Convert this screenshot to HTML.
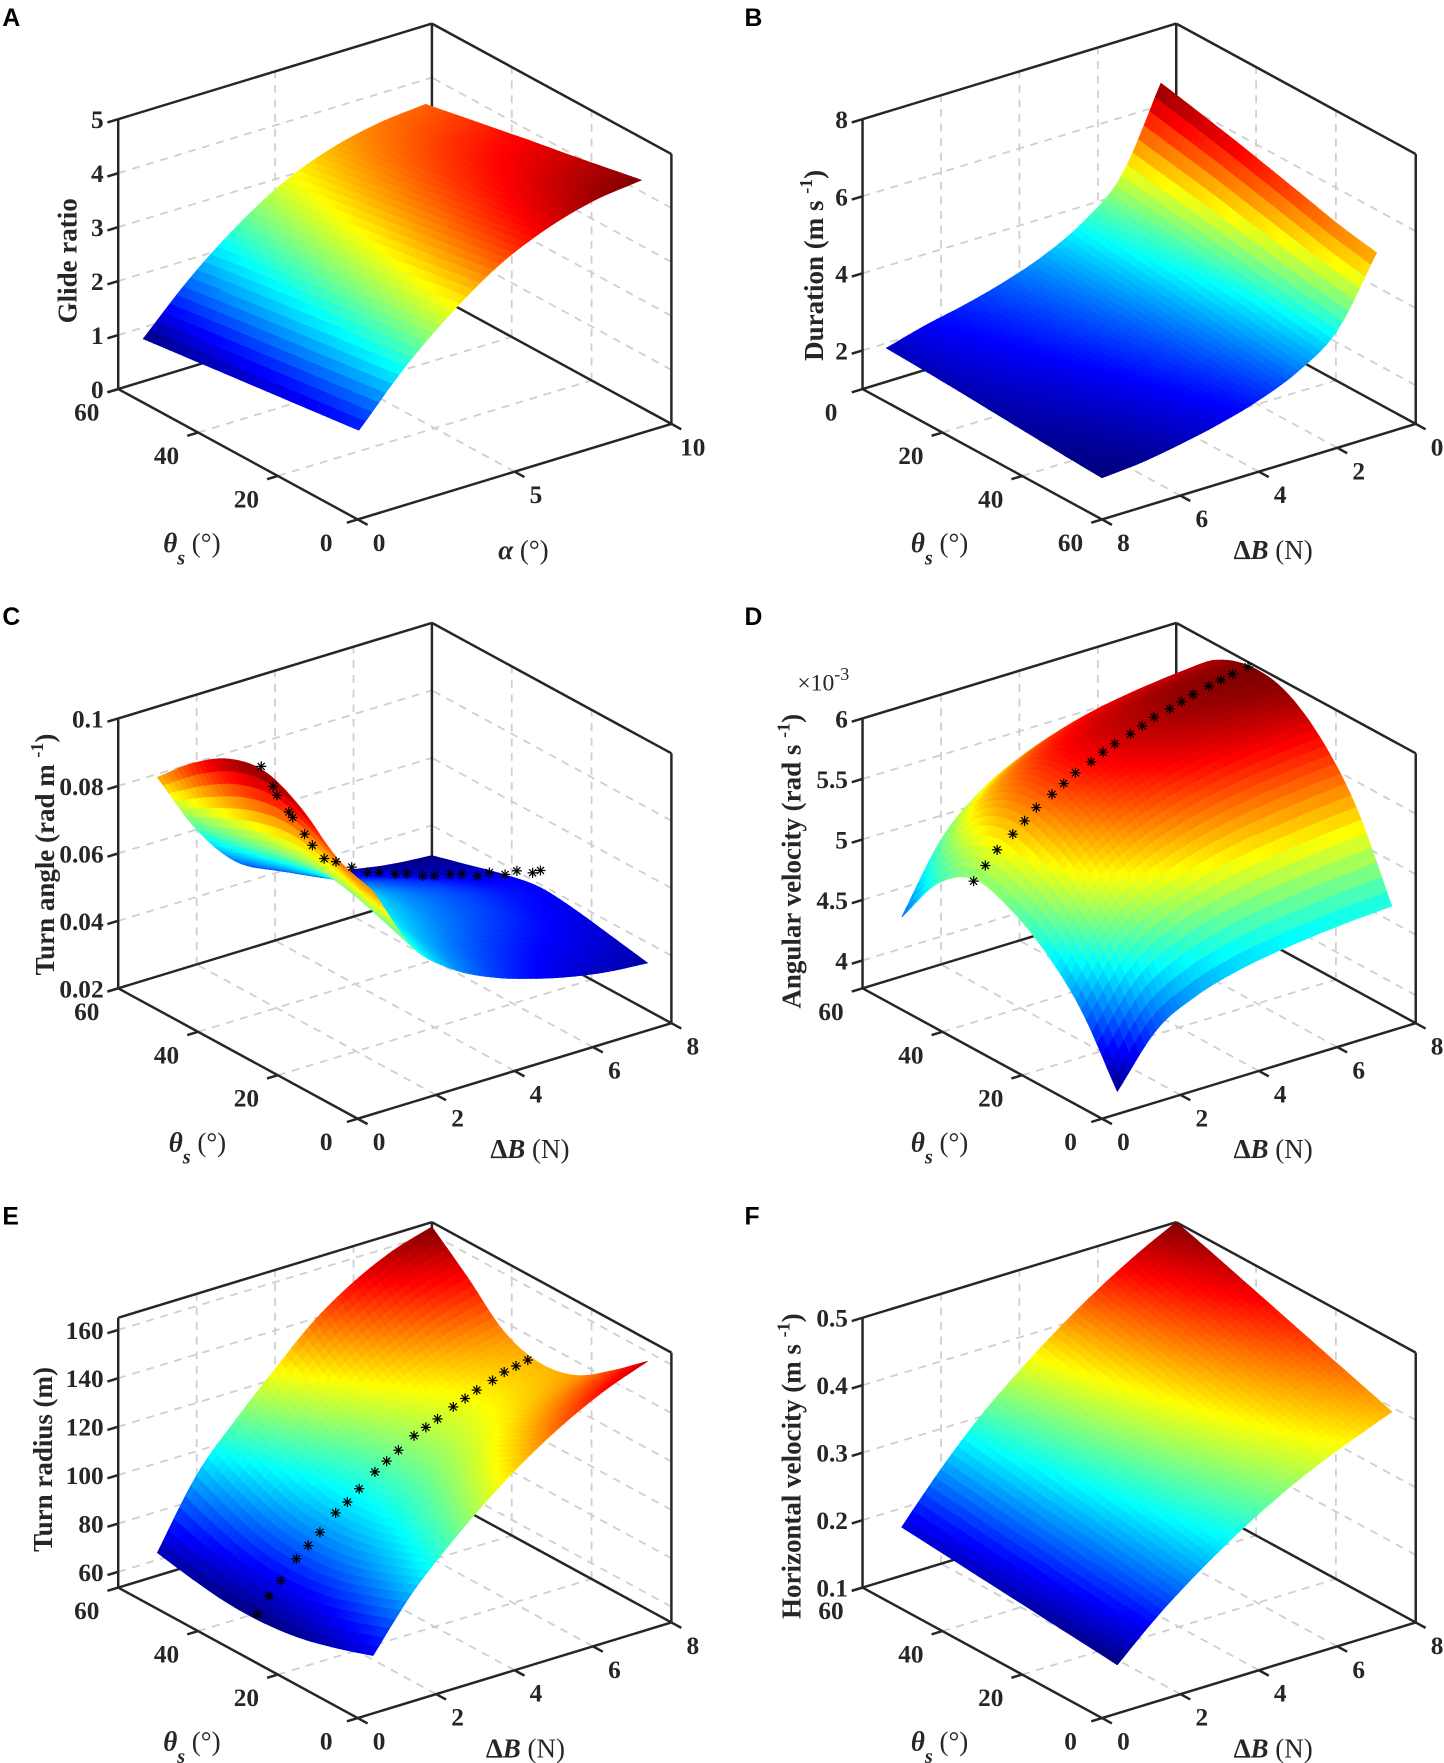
<!DOCTYPE html>
<html><head><meta charset="utf-8"><title>Glider surfaces</title>
<style>
html,body{margin:0;padding:0;background:#fff;}
svg{display:block;}
text{font-family:"Liberation Serif",serif;fill:#262626;}
.tick{font-size:22.5px;font-weight:bold;}
.ttl{font-size:24px;font-weight:bold;}
.let{font-family:"Liberation Sans",sans-serif;font-size:22px;font-weight:bold;fill:#000;}
</style></head>
<body>
<svg id="fig" width="1444" height="1763" viewBox="0 0 1284 1568" xmlns="http://www.w3.org/2000/svg">
<g id="layer"></g>
<text class="let" x="2" y="23">A</text>
<text class="let" x="662" y="23">B</text>
<text class="let" x="2" y="556">C</text>
<text class="let" x="662" y="556">D</text>
<text class="let" x="2" y="1089">E</text>
<text class="let" x="662" y="1089">F</text>
<text class="ttl" transform="translate(68,232) rotate(-90)" text-anchor="middle">Glide ratio</text>
<text class="ttl" transform="translate(732,236) rotate(-90)" text-anchor="middle">Duration (m s <tspan dy="-10" font-size="16">-1</tspan><tspan dy="10">)</tspan></text>
<text class="ttl" transform="translate(48,760) rotate(-90)" text-anchor="middle">Turn angle (rad m <tspan dy="-10" font-size="16">-1</tspan><tspan dy="10">)</tspan></text>
<text class="ttl" transform="translate(712,766) rotate(-90)" text-anchor="middle">Angular velocity (rad s <tspan dy="-10" font-size="16">-1</tspan><tspan dy="10">)</tspan></text>
<text class="ttl" transform="translate(46,1298) rotate(-90)" text-anchor="middle">Turn radius (m)</text>
<text class="ttl" transform="translate(712,1304) rotate(-90)" text-anchor="middle">Horizontal velocity (m s <tspan dy="-10" font-size="16">-1</tspan><tspan dy="10">)</tspan></text>
<text x="709" y="614" style="font-size:21px">×10<tspan dy="-9" font-size="16">-3</tspan></text>
<g class="ttl">
<text x="145" y="491"><tspan font-style="italic">θ</tspan><tspan dy="11" font-size="18" font-style="italic">s</tspan><tspan dy="-11" font-weight="normal">  (°)</tspan></text>
<text x="810" y="491"><tspan font-style="italic">θ</tspan><tspan dy="11" font-size="18" font-style="italic">s</tspan><tspan dy="-11" font-weight="normal">  (°)</tspan></text>
<text x="150" y="1024"><tspan font-style="italic">θ</tspan><tspan dy="11" font-size="18" font-style="italic">s</tspan><tspan dy="-11" font-weight="normal">  (°)</tspan></text>
<text x="810" y="1024"><tspan font-style="italic">θ</tspan><tspan dy="11" font-size="18" font-style="italic">s</tspan><tspan dy="-11" font-weight="normal">  (°)</tspan></text>
<text x="145" y="1557"><tspan font-style="italic">θ</tspan><tspan dy="11" font-size="18" font-style="italic">s</tspan><tspan dy="-11" font-weight="normal">  (°)</tspan></text>
<text x="810" y="1557"><tspan font-style="italic">θ</tspan><tspan dy="11" font-size="18" font-style="italic">s</tspan><tspan dy="-11" font-weight="normal">  (°)</tspan></text>
</g>
<g class="ttl">
<text x="443" y="497"><tspan font-style="italic">α</tspan><tspan font-weight="normal"> (°)</tspan></text>
<text x="1097" y="497">Δ<tspan font-style="italic">B</tspan><tspan font-weight="normal"> (N)</tspan></text>
<text x="436" y="1030">Δ<tspan font-style="italic">B</tspan><tspan font-weight="normal"> (N)</tspan></text>
<text x="1097" y="1030">Δ<tspan font-style="italic">B</tspan><tspan font-weight="normal"> (N)</tspan></text>
<text x="432" y="1563">Δ<tspan font-style="italic">B</tspan><tspan font-weight="normal"> (N)</tspan></text>
<text x="1097" y="1563">Δ<tspan font-style="italic">B</tspan><tspan font-weight="normal"> (N)</tspan></text>
</g>
</svg>
<script>
// ---------- data ----------
const thetaGrid = [6,15,24,33,42,51,60];
const alphaA = [0.8,2.3,3.8,5.3,6.8,8.3,9.8];
const dB = [1,2,3,4,5,6,7,8];
const glideA = [
 [1.27,2.20,2.95,3.55,3.95,4.20,4.31],
 [1.19,2.11,2.85,3.44,3.83,4.07,4.18],
 [1.11,2.02,2.75,3.33,3.71,3.94,4.05],
 [1.03,1.93,2.65,3.22,3.60,3.82,3.93],
 [0.95,1.84,2.55,3.12,3.48,3.70,3.80],
 [0.87,1.75,2.45,3.01,3.37,3.57,3.67],
 [0.79,1.65,2.35,2.90,3.25,3.45,3.54]];
const durationB = [
 [7.10,5.02,4.10,3.55,3.18,2.90,2.68,2.40],
 [6.89,4.87,3.98,3.44,3.08,2.81,2.60,2.36],
 [6.67,4.72,3.85,3.34,2.99,2.73,2.52,2.31],
 [6.43,4.54,3.71,3.21,2.88,2.62,2.43,2.25],
 [6.18,4.37,3.57,3.09,2.77,2.52,2.33,2.19],
 [5.93,4.19,3.42,2.96,2.66,2.42,2.24,2.13],
 [5.75,4.05,3.30,2.86,2.56,2.34,2.17,2.08]];
const turnAngleC = [
 [0.080,0.060,0.050,0.044,0.040,0.037,0.035,0.034],
 [0.084,0.064,0.053,0.047,0.043,0.040,0.038,0.036],
 [0.093,0.068,0.056,0.050,0.046,0.043,0.040,0.038],
 [0.098,0.070,0.058,0.051,0.047,0.044,0.041,0.039],
 [0.096,0.068,0.056,0.049,0.045,0.042,0.039,0.037],
 [0.089,0.064,0.052,0.045,0.041,0.038,0.035,0.034],
 [0.079,0.060,0.047,0.041,0.037,0.034,0.032,0.031]];
const angVelD = [
 [3.79,4.20,4.38,4.48,4.54,4.58,4.61,4.63],
 [4.30,4.75,4.97,5.09,5.17,5.22,5.26,5.29],
 [4.62,5.10,5.34,5.48,5.57,5.63,5.67,5.70],
 [4.82,5.30,5.55,5.70,5.80,5.86,5.90,5.93],
 [4.90,5.37,5.62,5.77,5.86,5.92,5.95,5.97],
 [4.70,5.20,5.46,5.62,5.72,5.78,5.82,5.85],
 [4.26,4.80,5.10,5.28,5.40,5.48,5.53,5.56]];
const radiusE = [
 [69,90,106,120,132,142,150,156],
 [64,84,99,112,123,132,139,144],
 [60,79,94,106,116,124,130,134],
 [58,77,92,104,114,121,127,131],
 [58,78,94,107,118,126,132,136],
 [60,83,100,115,127,137,145,150],
 [63,90,108,124,139,150,158,163]];
const hVelF = [
 [0.142,0.195,0.240,0.280,0.315,0.345,0.370,0.393],
 [0.147,0.203,0.250,0.292,0.328,0.360,0.387,0.411],
 [0.152,0.210,0.260,0.303,0.341,0.375,0.403,0.429],
 [0.157,0.218,0.270,0.315,0.355,0.390,0.420,0.447],
 [0.162,0.225,0.280,0.327,0.368,0.405,0.437,0.465],
 [0.167,0.233,0.290,0.338,0.382,0.420,0.453,0.483],
 [0.172,0.240,0.300,0.350,0.395,0.435,0.470,0.500]];
const starsC_dB = [1.0,1.2,1.3,1.5,1.6,1.8,2.0,2.2,2.5,2.8,3.1,3.4,3.7,4.0,4.3,4.6,4.9,5.2,5.5,5.8,6.1,6.4,6.7,6.9];
const starsC_th = [34,33,33,32,32,31,31,30,30,29,28,28,27,27,26,26,25,25,24,24,23,23,22,22];
const starsC_z  = [0.099,0.093,0.090,0.085,0.083,0.078,0.074,0.070,0.068,0.066,0.064,0.063,0.062,0.061,0.060,0.059,0.059,0.058,0.057,0.057,0.056,0.056,0.055,0.055];
const starsD_dB = [1,1.3,1.6,2,2.3,2.6,3,3.3,3.6,4,4.3,4.6,5,5.3,5.6,6,6.3,6.6,7,7.3,7.6,8];
const starsD_th = [42,42,42,42,42,42,42,42,42,42,42,42,42,42,42,42,42,42,42,42,42,42];
const starsD_z  = [4.88,4.98,5.08,5.17,5.25,5.33,5.40,5.46,5.52,5.57,5.62,5.66,5.70,5.74,5.78,5.81,5.84,5.87,5.90,5.92,5.94,5.96];
const starsE_dB = [1,1.3,1.6,2,2.3,2.6,3,3.3,3.6,4,4.3,4.6,5,5.3,5.6,6,6.3,6.6,7,7.3,7.6,7.9];
const starsE_th = [35,35,35,35,35,35,35,35,35,35,35,35,35,35,35,35,35,35,35,35,35,35];
const starsE_z  = [60,66,71,78,82,86,92,95,99,104,107,110,114,116,118,121,123,125,127,129,130,131];

// ---------- geometry ----------
const FB=[318,462], LB=[105,346], RB=[597,377], H=240;
const NS="http://www.w3.org/2000/svg";
const layer=document.getElementById('layer');
function jet(t){t=Math.max(0,Math.min(1,t));const c=x=>Math.round(255*Math.max(0,Math.min(1,1.5-Math.abs(4*t-x))));return `rgb(${c(3)},${c(2)},${c(1)})`;}
function fmt(v){return String(v);}
// Catmull-Rom sampling of a grid row (rendering only)
function cr(arr,f){
 const n=arr.length;const i=Math.min(n-2,Math.max(0,Math.floor(f)));const t=f-i;
 const p1=arr[i],p2=arr[i+1];
 const p0=i>0?arr[i-1]:2*p1-p2, p3=i+2<n?arr[i+2]:2*p2-p1;
 return 0.5*((2*p1)+(-p0+p2)*t+(2*p0-5*p1+4*p2-p3)*t*t+(-p0+3*p1-3*p2+p3)*t*t*t);
}
function sample(Z,fi,fj){
 const col=Z.map(row=>cr(row,fj));
 return cr(col,fi);
}
function lerpArr(arr,f){const i=Math.min(arr.length-2,Math.floor(f));const t=f-i;return arr[i]+(arr[i+1]-arr[i])*t;}

const panels=[
 {key:'a',ox:0,oy:0,uOf:t=>t/60,vOf:a=>a/10,zr:[0,5],zt:[0,1,2,3,4,5],tt:[0,20,40,60],xt:[0,5,10],th:thetaGrid,xs:alphaA,z:glideA},
 {key:'b',ox:662,oy:0,uOf:t=>1-t/60,vOf:b=>1-b/8,zr:[1,8],zt:[2,4,6,8],tt:[0,20,40,60],xt:[0,2,4,6,8],th:thetaGrid,xs:dB,z:durationB},
 {key:'c',ox:0,oy:533,uOf:t=>t/60,vOf:b=>b/8,zr:[0.02,0.1],zt:[0.02,0.04,0.06,0.08,0.1],zl:['0.02','0.04','0.06','0.08','0.1'],tt:[0,20,40,60],xt:[0,2,4,6,8],th:thetaGrid,xs:dB,z:turnAngleC,sdb:starsC_dB,sth:starsC_th,sz:starsC_z},
 {key:'d',ox:662,oy:533,uOf:t=>t/60,vOf:b=>b/8,zr:[3.77,6.0],zt:[4,4.5,5,5.5,6],tt:[0,20,40,60],xt:[0,2,4,6,8],th:thetaGrid,xs:dB,z:angVelD,sdb:starsD_dB,sth:starsD_th,sz:starsD_z},
 {key:'e',ox:0,oy:1066,uOf:t=>t/60,vOf:b=>b/8,zr:[53.5,165],zt:[60,80,100,120,140,160],tt:[0,20,40,60],xt:[0,2,4,6,8],th:thetaGrid,xs:dB,z:radiusE,sdb:starsE_dB,sth:starsE_th,sz:starsE_z},
 {key:'f',ox:662,oy:1066,uOf:t=>t/60,vOf:b=>b/8,zr:[0.1,0.5],zt:[0.1,0.2,0.3,0.4,0.5],zl:['0.1','0.2','0.3','0.4','0.5'],tt:[0,20,40,60],xt:[0,2,4,6,8],th:thetaGrid,xs:dB,z:hVelF}
];

function line(g,p,q,stroke,w,dash){
 const l=document.createElementNS(NS,'line');
 l.setAttribute('x1',p[0].toFixed(1));l.setAttribute('y1',p[1].toFixed(1));
 l.setAttribute('x2',q[0].toFixed(1));l.setAttribute('y2',q[1].toFixed(1));
 l.setAttribute('stroke',stroke);l.setAttribute('stroke-width',w);
 if(dash)l.setAttribute('stroke-dasharray',dash);
 g.appendChild(l);return l;
}
function txt(g,x,y,s,anchor){
 const t=document.createElementNS(NS,'text');
 t.setAttribute('x',x.toFixed(1));t.setAttribute('y',y.toFixed(1));
 t.setAttribute('class','tick');t.setAttribute('text-anchor',anchor);
 t.textContent=s;g.appendChild(t);return t;
}

panels.forEach(P=>{
 const proj=(u,v,w)=>[P.ox+FB[0]+u*(LB[0]-FB[0])+v*(RB[0]-FB[0]), P.oy+FB[1]+u*(LB[1]-FB[1])+v*(RB[1]-FB[1])-w*H];
 const wOf=z=>(z-P.zr[0])/(P.zr[1]-P.zr[0]);
 const g=document.createElementNS(NS,'g');
 
 
 layer.appendChild(g);
 const grid=document.createElementNS(NS,'g');
 
 
 g.appendChild(grid);
 const GC='#cfcfcf',GW=1.6,GD='7 6';
 P.tt.forEach(t=>{const u=P.uOf(t);line(grid,proj(u,0,0),proj(u,1,0),GC,GW,GD);line(grid,proj(u,1,0),proj(u,1,1),GC,GW,GD);});
 P.xt.forEach(x=>{const v=P.vOf(x);line(grid,proj(0,v,0),proj(1,v,0),GC,GW,GD);line(grid,proj(1,v,0),proj(1,v,1),GC,GW,GD);});
 P.zt.forEach(z=>{const w=wOf(z);line(grid,proj(1,0,w),proj(1,1,w),GC,GW,GD);line(grid,proj(0,1,w),proj(1,1,w),GC,GW,GD);});
 const box=document.createElementNS(NS,'g');
 
 
 g.appendChild(box);
 const BC='#262626',BW=2.2;
 [[[1,0,0],[1,0,1]],[[0,1,0],[0,1,1]],[[1,1,0],[1,1,1]],[[1,0,1],[1,1,1]],[[1,1,1],[0,1,1]],[[1,0,0],[1,1,0]],[[1,1,0],[0,1,0]]]
  .forEach(e=>line(box,proj(...e[0]),proj(...e[1]),BC,BW));
 const zmin=Math.min(...P.z.flat()),zmax=Math.max(...P.z.flat());
 const surf=document.createElementNS(NS,'g');
 
 
 g.appendChild(surf);
 const NI=(P.th.length-1)*7, NJ=(P.xs.length-1)*7;
 const gi=P.th.length-1, gj=P.xs.length-1;
 const pt=[];
 for(let a=0;a<=NI;a++){pt.push([]);for(let b=0;b<=NJ;b++){
  const fi=a/NI*gi, fj=b/NJ*gj;
  const th=lerpArr(P.th,fi), xv=lerpArr(P.xs,fj);
  const zz=sample(P.z,fi,fj);
  const u=P.uOf(th),v=P.vOf(xv),w=wOf(zz);
  pt[a].push({p:proj(u,v,w),z:zz,u,v,w});
 }}
 const polys=[];
 for(let a=0;a<NI;a++)for(let b=0;b<NJ;b++){
  const q=[pt[a][b],pt[a+1][b],pt[a+1][b+1],pt[a][b+1]];
  let zs=0,d=0;q.forEach(o=>{zs+=o.z;d+=201*o.u+147*o.v-139*o.w;});
  polys.push({pts:q.map(o=>o.p),z:zs/4,d});
 }
 polys.sort((p,q)=>q.d-p.d);
 polys.forEach(p=>{
  const el=document.createElementNS(NS,'polygon');
  
  
  const c=jet((p.z-zmin)/(zmax-zmin));
  el.setAttribute('points',p.pts.map(q=>q[0].toFixed(1)+','+q[1].toFixed(1)).join(' '));
  el.setAttribute('fill',c);el.setAttribute('stroke',c);el.setAttribute('stroke-width','0.7');
  surf.appendChild(el);
 });
 if(P.sdb){
  const sg=document.createElementNS(NS,'g');
  
  
  g.appendChild(sg);
  P.sdb.forEach((b,k)=>{
   const c=proj(P.uOf(P.sth[k]),P.vOf(b),wOf(P.sz[k]));
   const m=document.createElementNS(NS,'g');
   
   
   const r=4.5;
   [[r,0],[0,r],[r*0.7,r*0.7],[r*0.7,-r*0.7]].forEach(d=>line(m,[c[0]-d[0],c[1]-d[1]],[c[0]+d[0],c[1]+d[1]],'#000',1.1));
   sg.appendChild(m);
  });
 }
 const ax=document.createElementNS(NS,'g');
 
 
 g.appendChild(ax);
 line(ax,proj(1,0,0),proj(0,0,0),BC,BW);
 line(ax,proj(0,0,0),proj(0,1,0),BC,BW);
 const tv=[-9.6,2.9], tu=[8.8,4.8];
 P.tt.forEach(t=>{const p=proj(P.uOf(t),0,0);line(ax,p,[p[0]+tv[0],p[1]+tv[1]],BC,BW);txt(ax,p[0]-28,p[1]+28,fmt(t),'middle');});
 P.xt.forEach(x=>{const p=proj(0,P.vOf(x),0);line(ax,p,[p[0]+tu[0],p[1]+tu[1]],BC,BW);txt(ax,p[0]+19,p[1]+28,fmt(x),'middle');});
 P.zt.forEach((z,k)=>{const p=proj(1,0,wOf(z));line(ax,p,[p[0]+tv[0],p[1]+tv[1]],BC,BW);txt(ax,p[0]-13,p[1]+8,P.zl?P.zl[k]:fmt(z),'end');});
});
</script>
</body></html>
